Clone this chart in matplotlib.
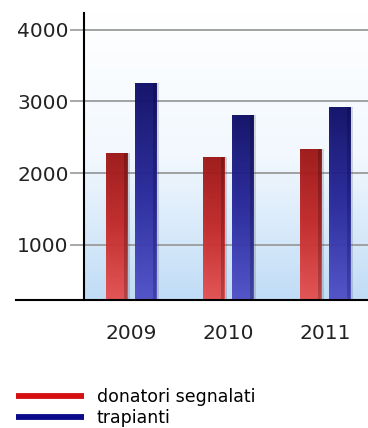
import numpy as np
import matplotlib
matplotlib.use("Agg")
import matplotlib.pyplot as plt
from matplotlib.lines import Line2D
from matplotlib.colors import LinearSegmentedColormap

years = ["2009", "2010", "2011"]
donatori = [2280, 2225, 2330]
trapianti = [3250, 2810, 2920]
series_labels = ["donatori segnalati", "trapianti"]
yticks = [1000, 2000, 3000, 4000]

W, H = 368, 428
YMIN, YMAX = 230, 4230
fig = plt.figure(figsize=(W / 100, H / 100), dpi=100)
ax = fig.add_axes([84 / W, 1 - 300 / H, 1 - 84 / W, (300 - 13) / H])

x = np.arange(len(years))
bw = 0.217
off = 0.148
ax.set_xlim(-0.485, 2.44)
ax.set_ylim(YMIN, YMAX)

# background gradient (white top -> light blue bottom)
grad = np.linspace(0, 1, 256).reshape(-1, 1)
bg_cmap = LinearSegmentedColormap.from_list("bg", ["#ffffff", "#f2f8fe", "#c0dcf6"])
ax.imshow(grad, cmap=bg_cmap, aspect="auto", extent=[0, 1, 0, 1],
          transform=ax.transAxes, zorder=0, interpolation="bilinear")

# grid
ax.set_yticks(yticks)
ax.yaxis.grid(True, color="#9a9a9a", lw=1.3, zorder=1)
ax.set_axisbelow(True)

red_cmap = LinearSegmentedColormap.from_list("r", ["#9c1414", "#c42828", "#e65050"])
blue_cmap = LinearSegmentedColormap.from_list("b", ["#0c0c66", "#26269a", "#5050c8"])

def draw(xs, vals, cmap):
    # shadow
    ax.bar(xs + 0.03, vals, bw, bottom=0, color="#555566", alpha=0.22, zorder=2, lw=0)
    bars = ax.bar(xs, vals, bw, color="none", lw=0, zorder=3)
    for b in bars:
        x0, w, h = b.get_x(), b.get_width(), b.get_height()
        im = ax.imshow(grad, cmap=cmap, aspect="auto", extent=[x0, x0 + w, YMIN, h],
                       zorder=3, interpolation="bilinear", alpha=0.95)
        im.set_clip_path(b)
        # darker right edge
        ax.bar(x0 + w * 0.86, h, w * 0.14, align="edge", color="black", alpha=0.2,
               zorder=4, lw=0)
    return bars

draw(x - off, donatori, red_cmap)
draw(x + off, trapianti, blue_cmap)
ax.set_xlim(-0.485, 2.44)
ax.set_ylim(YMIN, YMAX)

ax.set_xticks(x)
ax.set_xticklabels(years)
ax.tick_params(axis="x", length=0, pad=17, labelsize=14.5, colors="#222222")
ax.tick_params(axis="y", length=10, width=1.2, color="#9a9a9a", pad=1,
               labelsize=14.5, labelcolor="#222222")

for s in ["top", "right", "bottom"]:
    ax.spines[s].set_visible(False)
ax.spines["left"].set_color("black")
ax.spines["left"].set_linewidth(1.5)
ax.spines["left"].set_zorder(6)

# baseline extending left
fig.add_artist(Line2D([16 / W, 1], [1 - 300 / H, 1 - 300 / H], color="black", lw=1.5,
                      transform=fig.transFigure, zorder=10))

handles = [Line2D([0], [0], color="#d41010", lw=4.2, solid_capstyle="butt"),
           Line2D([0], [0], color="#0a0a8a", lw=4.2, solid_capstyle="butt")]
fig.legend(handles, series_labels, loc="upper left",
           bbox_to_anchor=(16 / W, 1 - 388 / H), frameon=False, fontsize=12.5,
           handlelength=3.9, handletextpad=0.75, labelspacing=0.15,
           borderpad=0, borderaxespad=0)

fig.savefig("out.png", dpi=100)
